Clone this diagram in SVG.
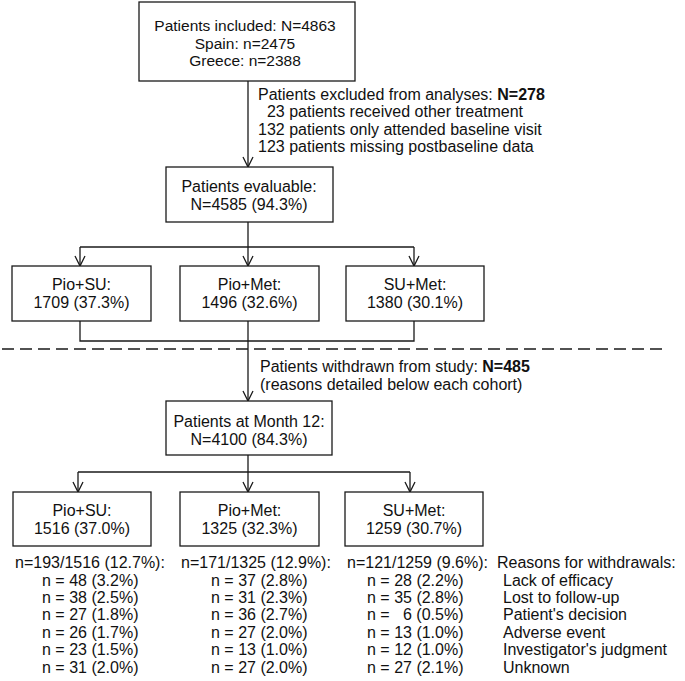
<svg xmlns="http://www.w3.org/2000/svg" width="685" height="681" viewBox="0 0 685 681">
<style>
  text { font-family: "Liberation Sans", Arial, sans-serif; font-size: 16px; fill: #111; }
  .t { font-size: 15.5px; }
  .c { text-anchor: middle; }
  .box { fill: #fff; stroke: #1a1a1a; stroke-width: 1.3; }
  .ln { fill: none; stroke: #1a1a1a; stroke-width: 1.3; }
  .dash { fill: none; stroke: #1a1a1a; stroke-width: 1.3; stroke-dasharray: 12 6; }
  .b { font-weight: bold; }
</style>
<defs>
  <marker id="arr" markerUnits="userSpaceOnUse" viewBox="-11 -6 12 12" markerWidth="12" markerHeight="12" refX="0" refY="0" orient="auto" overflow="visible">
    <path d="M-10,-5 L0,0 L-10,5" fill="none" stroke="#1a1a1a" stroke-width="1.3"/>
  </marker>
</defs>
<rect width="685" height="681" fill="#fff"/>

<g id="connectors">
  <path class="ln" d="M248,81 V167" marker-end="url(#arr)"/>
  <path class="ln" d="M248,222 V247"/>
  <path class="ln" d="M80,247 H414"/>
  <path class="ln" d="M80,247 V266" marker-end="url(#arr)"/>
  <path class="ln" d="M248,247 V266" marker-end="url(#arr)"/>
  <path class="ln" d="M414,247 V266" marker-end="url(#arr)"/>
  <path class="ln" d="M80,321 V341 H414 V321"/>
  <path class="ln" d="M248,321 V401" marker-end="url(#arr)"/>
  <path class="ln" d="M248,455 V472"/>
  <path class="ln" d="M78,472 H410"/>
  <path class="ln" d="M78,472 V492" marker-end="url(#arr)"/>
  <path class="ln" d="M248,472 V492" marker-end="url(#arr)"/>
  <path class="ln" d="M410,472 V492" marker-end="url(#arr)"/>
  <path class="dash" d="M2,349 H662"/>
</g>

<g id="included">
  <rect class="box" x="139" y="2" width="216" height="79"/>
  <text class="c t" x="245" y="30.5">Patients included: N=4863</text>
  <text class="c t" x="245" y="48.5">Spain: n=2475</text>
  <text class="c t" x="245" y="65.5">Greece: n=2388</text>
</g>

<g id="excluded">
  <text x="258" y="100">Patients excluded from analyses: <tspan class="b">N=278</tspan></text>
  <text x="258" y="117" xml:space="preserve">  23 patients received other treatment</text>
  <text x="258" y="135">132 patients only attended baseline visit</text>
  <text x="258" y="152">123 patients missing postbaseline data</text>
</g>

<g id="evaluable">
  <rect class="box" x="166" y="167" width="167" height="55"/>
  <text class="c" x="249" y="192">Patients evaluable:</text>
  <text class="c" x="249" y="210">N=4585 (94.3%)</text>
</g>

<g id="pio-su-1">
  <rect class="box" x="12" y="266" width="139" height="55"/>
  <text class="c" x="81.5" y="290">Pio+SU:</text>
  <text class="c" x="81.5" y="308">1709 (37.3%)</text>
</g>
<g id="pio-met-1">
  <rect class="box" x="180" y="266" width="139" height="55"/>
  <text class="c" x="249.5" y="290">Pio+Met:</text>
  <text class="c" x="249.5" y="308">1496 (32.6%)</text>
</g>
<g id="su-met-1">
  <rect class="box" x="346" y="266" width="138" height="55"/>
  <text class="c" x="415" y="290">SU+Met:</text>
  <text class="c" x="415" y="308">1380 (30.1%)</text>
</g>

<g id="withdrawn">
  <text x="260" y="372">Patients withdrawn from study: <tspan class="b">N=485</tspan></text>
  <text x="260" y="390">(reasons detailed below each cohort)</text>
</g>

<g id="month12">
  <rect class="box" x="166" y="401" width="166" height="54"/>
  <text class="c" x="249" y="427">Patients at Month 12:</text>
  <text class="c" x="249" y="445">N=4100 (84.3%)</text>
</g>

<g id="pio-su-2">
  <rect class="box" x="13" y="492" width="138" height="54"/>
  <text class="c" x="82" y="516">Pio+SU:</text>
  <text class="c" x="82" y="534">1516 (37.0%)</text>
</g>
<g id="pio-met-2">
  <rect class="box" x="180" y="492" width="139" height="54"/>
  <text class="c" x="249.5" y="516">Pio+Met:</text>
  <text class="c" x="249.5" y="534">1325 (32.3%)</text>
</g>
<g id="su-met-2">
  <rect class="box" x="345" y="492" width="138" height="54"/>
  <text class="c" x="414" y="516">SU+Met:</text>
  <text class="c" x="414" y="534">1259 (30.7%)</text>
</g>

<g id="withdrawal-table">
  <text x="15" y="568">n=193/1516 (12.7%):</text>
  <text x="181" y="568">n=171/1325 (12.9%):</text>
  <text x="347" y="568">n=121/1259 (9.6%):</text>
  <text x="497" y="568">Reasons for withdrawals:</text>

  <text x="42" y="586">n = 48 (3.2%)</text>
  <text x="42" y="603">n = 38 (2.5%)</text>
  <text x="42" y="620">n = 27 (1.8%)</text>
  <text x="42" y="638">n = 26 (1.7%)</text>
  <text x="42" y="655">n = 23 (1.5%)</text>
  <text x="42" y="673">n = 31 (2.0%)</text>

  <text x="211" y="586">n = 37 (2.8%)</text>
  <text x="211" y="603">n = 31 (2.3%)</text>
  <text x="211" y="620">n = 36 (2.7%)</text>
  <text x="211" y="638">n = 27 (2.0%)</text>
  <text x="211" y="655">n = 13 (1.0%)</text>
  <text x="211" y="673">n = 27 (2.0%)</text>

  <text x="367" y="586">n = 28 (2.2%)</text>
  <text x="367" y="603">n = 35 (2.8%)</text>
  <text x="367" y="620" xml:space="preserve">n =   6 (0.5%)</text>
  <text x="367" y="638">n = 13 (1.0%)</text>
  <text x="367" y="655">n = 12 (1.0%)</text>
  <text x="367" y="673">n = 27 (2.1%)</text>

  <text x="503" y="586">Lack of efficacy</text>
  <text x="503" y="603">Lost to follow-up</text>
  <text x="503" y="620">Patient's decision</text>
  <text x="503" y="638">Adverse event</text>
  <text x="503" y="655">Investigator's judgment</text>
  <text x="503" y="673">Unknown</text>
</g>
</svg>
